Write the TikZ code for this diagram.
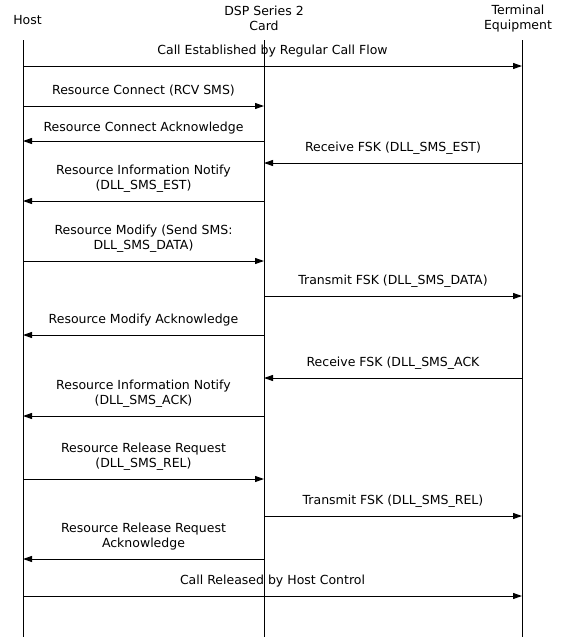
\documentclass[tikz,border=0pt]{standalone}
\usepackage{fontspec}
\setmainfont{DejaVu Sans}
\usetikzlibrary{arrows.meta}
\begin{document}
\begin{tikzpicture}[x=1pt,y=-1pt,
  font=\fontsize{12.5}{15}\selectfont,
  life/.style={line width=1pt},
  msg/.style={line width=1pt,-{Triangle[length=9pt,width=6pt]}},
  lbl/.style={above=11.5pt, inner sep=0pt, align=center, text depth=0pt},
  head/.style={inner sep=0pt, align=center}]
\useasboundingbox (0,0) rectangle (566,638);
% headers
\node[head] (hHost) at (27.5,20) {Host};
\node[head] (hDsp) at (264,18) {DSP Series 2\\Card};
\node[head] (hTerm) at (518,18.5) {Terminal\\Equipment};
% lifelines
\coordinate (host) at (23,40);
\coordinate (dsp) at (264,40);
\coordinate (term) at (522,40);
\coordinate (hostB) at (23,637);
\coordinate (dspB) at (264,637);
\coordinate (termB) at (522,637);
\draw[life] (host) -- (hostB);
\draw[life] (dsp) -- (dspB);
\draw[life] (term) -- (termB);
% messages
\draw[msg] (host |- 0,66) -- node[lbl]{Call Established by Regular Call Flow} (term |- 0,66);
\draw[msg] (host |- 0,106) -- node[lbl]{Resource Connect (RCV SMS)} (dsp |- 0,106);
\draw[msg] (dsp |- 0,141) -- node[lbl, yshift=-2.5pt]{Resource Connect Acknowledge} (host |- 0,141);
\draw[msg] (term |- 0,163) -- node[lbl]{Receive FSK (DLL\_SMS\_EST)} (dsp |- 0,163);
\draw[msg] (dsp |- 0,201) -- node[lbl]{Resource Information Notify\\(DLL\_SMS\_EST)} (host |- 0,201);
\draw[msg] (host |- 0,261) -- node[lbl]{Resource Modify (Send SMS:\\DLL\_SMS\_DATA)} (dsp |- 0,261);
\draw[msg] (dsp |- 0,296) -- node[lbl]{Transmit FSK (DLL\_SMS\_DATA)} (term |- 0,296);
\draw[msg] (dsp |- 0,335) -- node[lbl]{Resource Modify Acknowledge} (host |- 0,335);
\draw[msg] (term |- 0,378) -- node[lbl]{Receive FSK (DLL\_SMS\_ACK} (dsp |- 0,378);
\draw[msg] (dsp |- 0,416) -- node[lbl]{Resource Information Notify\\(DLL\_SMS\_ACK)} (host |- 0,416);
\draw[msg] (host |- 0,479) -- node[lbl]{Resource Release Request\\(DLL\_SMS\_REL)} (dsp |- 0,479);
\draw[msg] (dsp |- 0,516) -- node[lbl]{Transmit FSK (DLL\_SMS\_REL)} (term |- 0,516);
\draw[msg] (dsp |- 0,559) -- node[lbl]{Resource Release Request\\Acknowledge} (host |- 0,559);
\draw[msg] (host |- 0,596) -- node[lbl]{Call Released by Host Control} (term |- 0,596);
\end{tikzpicture}
\end{document}
